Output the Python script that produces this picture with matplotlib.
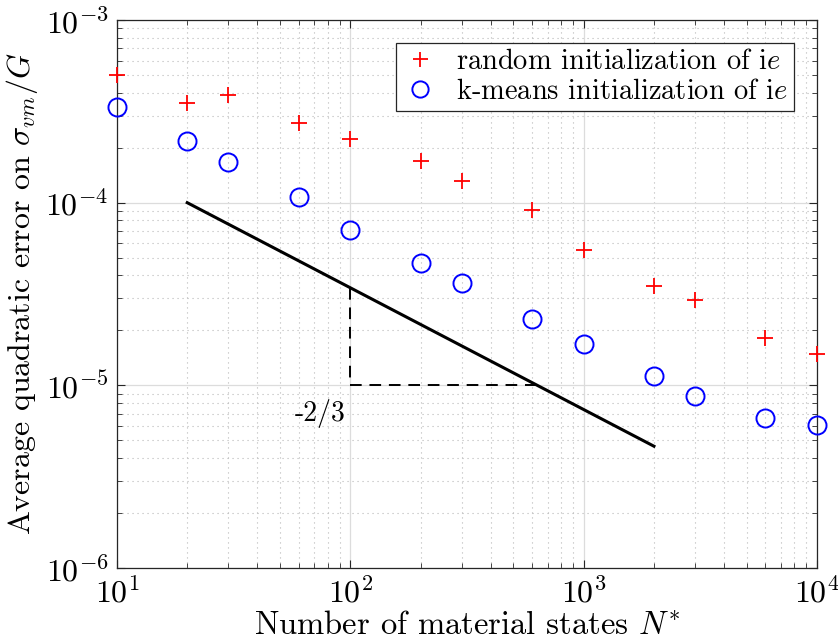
import numpy as np
import matplotlib
matplotlib.use('Agg')
import matplotlib.pyplot as plt

plt.rcParams['font.family'] = 'serif'
plt.rcParams['font.serif'] = ['cmr10', 'DejaVu Serif']
plt.rcParams['mathtext.fontset'] = 'cm'
plt.rcParams['axes.formatter.use_mathtext'] = True

# data
n_states = [10, 20, 30, 60, 100, 200, 300, 600, 1000, 2000, 3000, 6000, 10000]
err_random = [5.0e-4, 3.5e-4, 3.9e-4, 2.73e-4, 2.24e-4, 1.69e-4, 1.31e-4,
              9.1e-5, 5.5e-5, 3.5e-5, 2.93e-5, 1.82e-5, 1.49e-5]
err_kmeans = [3.34e-4, 2.18e-4, 1.67e-4, 1.07e-4, 7.1e-5, 4.68e-5, 3.64e-5,
              2.31e-5, 1.68e-5, 1.13e-5, 8.75e-6, 6.63e-6, 6.07e-6]
slope_x = [20, 2000]
slope_y0 = 1e-4
slope = -2.0 / 3.0
tri_x = [100, 632]
tri_y = 1e-5

fig = plt.figure(figsize=(8.38, 6.42), dpi=100)
ax = fig.add_axes([0.1396, 0.1153, 0.8354, 0.8535])

ax.plot(n_states, err_random, '+', color='red', ms=12, mew=1.3,
        label=r'random initialization of i$e$', clip_on=False, zorder=5)
ax.plot(n_states, err_kmeans, 'o', color='blue', mfc='none', ms=13, mew=1.4,
        label=r'k-means initialization of i$e$', clip_on=False, zorder=5)

sx = np.array(slope_x, dtype=float)
ax.plot(sx, slope_y0 * (sx / sx[0]) ** slope, 'k-', lw=2.2)

y_top = slope_y0 * (tri_x[0] / sx[0]) ** slope
ax.plot([tri_x[0], tri_x[0]], [y_top, tri_y], 'k--', lw=1.4, dashes=(6, 4))
ax.plot(tri_x, [tri_y, tri_y], 'k--', lw=1.4, dashes=(6, 4))
ax.text(74, 7.0e-6, '-2/3', fontsize=20, ha='center', va='center')

ax.set_xscale('log')
ax.set_yscale('log')
ax.set_xlim(10, 1e4)
ax.set_ylim(1e-6, 1e-3)

ax.grid(True, which='major', color='#dcdcdc', lw=0.9, ls='-')
ax.grid(True, which='minor', color='#b8b8b8', lw=0.8, ls=(0, (1, 3.5)))
ax.set_axisbelow(True)

ax.tick_params(which='both', direction='in', top=True, right=True,
               labelsize=23, color='#262626')
ax.tick_params(which='major', length=6, pad=6)
ax.tick_params(which='minor', length=3.5)
for s in ax.spines.values():
    s.set_color('#262626')
    s.set_linewidth(0.9)

ax.set_xlabel(r'Number of material states $N^{*}$', fontsize=23.5, labelpad=2)
ax.set_ylabel(r'Average quadratic error on $\sigma_{vm}/G$', fontsize=23, labelpad=4)

leg = ax.legend(loc='upper right', fontsize=20.5, fancybox=False,
                edgecolor='#262626', framealpha=1, borderaxespad=0.8,
                handlelength=1.3, handletextpad=0.6, borderpad=0.22,
                labelspacing=0.12, markerscale=0.9)
leg.get_frame().set_linewidth(0.9)

fig.savefig('out.png', dpi=100)
